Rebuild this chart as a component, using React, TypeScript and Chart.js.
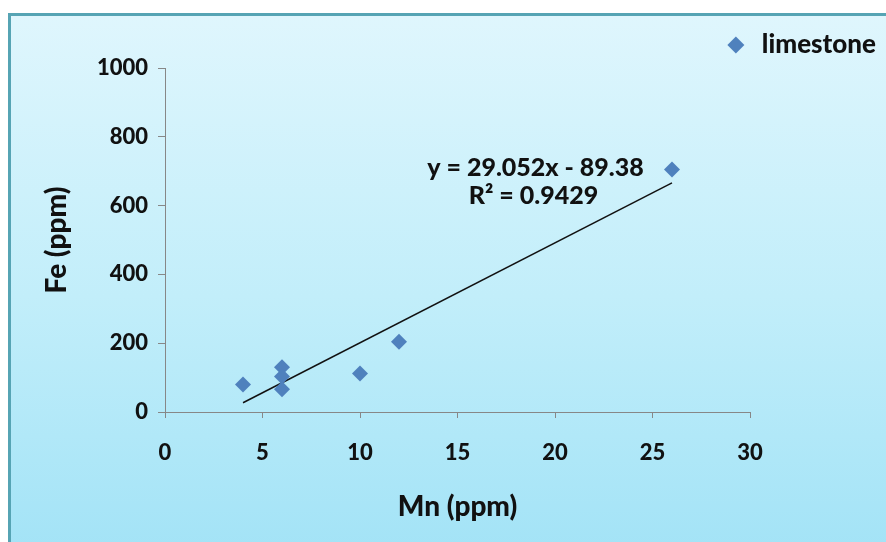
import React, { useEffect, useRef } from "react";
import { Chart, registerables } from "chart.js";

Chart.register(...registerables);

// ---- data ----
const seriesName = "limestone";
const mnValues = [4, 6, 6, 6, 10, 12, 26];
const feValues = [80, 130, 103, 66, 112, 204, 705];
const xTicks = [0, 5, 10, 15, 20, 25, 30];
const yTicks = [0, 200, 400, 600, 800, 1000];
const trendSlope = 29.052;
const trendIntercept = -89.38;
const trendRange = [4, 26];
const equationText = "y = 29.052x - 89.38";
const r2Text = "R² = 0.9429";
const xTitle = "Mn (ppm)";
const yTitle = "Fe (ppm)";

const FONT = "Lato, 'DejaVu Sans', sans-serif";
const WEIGHT = "900";

const annotationPlugin = {
  id: "eqLabel",
  afterDatasetsDraw(chart: any) {
    const { ctx, scales } = chart;
    const xs = scales.x;
    const ys = scales.y;
    ctx.save();
    ctx.fillStyle = "#111";
    ctx.font = `${WEIGHT} 25px ${FONT}`;
    ctx.textAlign = "center";
    ctx.textBaseline = "middle";
    ctx.fillText(equationText, xs.getPixelForValue(19.0), ys.getPixelForValue(710));
    ctx.fillText(r2Text, xs.getPixelForValue(18.9), ys.getPixelForValue(628));
    ctx.restore();
  },
};

export default function App() {
  const ref = useRef<HTMLCanvasElement | null>(null);

  useEffect(() => {
    if (!ref.current) return;
    const points = mnValues.map((x, i) => ({ x, y: feValues[i] }));
    const trend = trendRange.map((x) => ({ x, y: trendSlope * x + trendIntercept }));
    const axisColor = "#878787";
    const chart = new Chart(ref.current, {
      type: "scatter",
      data: {
        datasets: [
          {
            label: seriesName,
            data: points,
            pointStyle: "rectRot",
            pointRadius: 8,
            pointHoverRadius: 8,
            backgroundColor: "#4f81bd",
            borderColor: "#4f81bd",
            borderWidth: 0,
          },
          {
            type: "line",
            label: "trend",
            data: trend,
            borderColor: "#111",
            borderWidth: 1.5,
            pointRadius: 0,
            fill: false,
          } as any,
        ],
      },
      options: {
        responsive: false,
        animation: false,
        layout: { padding: { top: 22, left: 40, right: 0, bottom: 14 } },
        plugins: {
          tooltip: { enabled: false },
          legend: {
            position: "top",
            align: "end",
            labels: {
              filter: (item: any) => item.text === seriesName,
              usePointStyle: true,
              boxHeight: 12,
              padding: 10,
              color: "#111",
              font: { family: FONT, size: 26, weight: WEIGHT },
            },
          },
        },
        scales: {
          x: {
            type: "linear",
            min: xTicks[0],
            max: xTicks[xTicks.length - 1],
            afterBuildTicks: (s: any) => {
              s.ticks = xTicks.map((v) => ({ value: v }));
            },
            afterFit: (s: any) => {
              s.height = 116;
            },
            grid: { display: true, drawOnChartArea: false, drawTicks: true, tickLength: 6, color: axisColor },
            border: { display: true, color: axisColor, width: 1 },
            ticks: {
              color: "#111",
              padding: 22,
              callback: (v: any) => String(v),
              font: { family: FONT, size: 22, weight: WEIGHT },
            },
            title: {
              display: true,
              text: xTitle,
              color: "#111",
              padding: { top: 0, bottom: 4 },
              font: { family: FONT, size: 28, weight: WEIGHT },
            },
          },
          y: {
            type: "linear",
            min: yTicks[0],
            max: yTicks[yTicks.length - 1],
            afterBuildTicks: (s: any) => {
              s.ticks = yTicks.map((v) => ({ value: v }));
            },
            afterFit: (s: any) => {
              s.width = 125;
            },
            grid: { display: true, drawOnChartArea: false, drawTicks: true, tickLength: 7, color: axisColor },
            border: { display: true, color: axisColor, width: 1 },
            ticks: {
              color: "#111",
              padding: 10,
              callback: (v: any) => String(v),
              font: { family: FONT, size: 22, weight: WEIGHT },
            },
            title: {
              display: true,
              text: yTitle,
              color: "#111",
              padding: { top: 0, bottom: 0 },
              font: { family: FONT, size: 28, weight: WEIGHT },
            },
          },
          yR: {
            type: "linear",
            position: "right",
            display: true,
            grid: { display: false },
            border: { display: false },
            ticks: { display: false },
            afterFit: (s: any) => {
              s.width = 136;
            },
          },
        },
      },
      plugins: [annotationPlugin],
    } as any);
    return () => chart.destroy();
  }, []);

  return (
    <div style={{ position: "fixed", left: 0, top: 0, width: 886, height: 542, overflow: "hidden", background: "#fff" }}>
      <div
        style={{
          position: "absolute",
          left: 8,
          top: 13,
          width: 900,
          height: 560,
          border: "3px solid #56a4b4",
          background: "linear-gradient(to bottom, #dff6fd 0%, #c2eefa 50%, #a0e2f6 100%)",
        }}
      />
      <canvas ref={ref} width={886} height={542} style={{ position: "absolute", left: 0, top: 0, width: 886, height: 542 }} />
    </div>
  );
}
